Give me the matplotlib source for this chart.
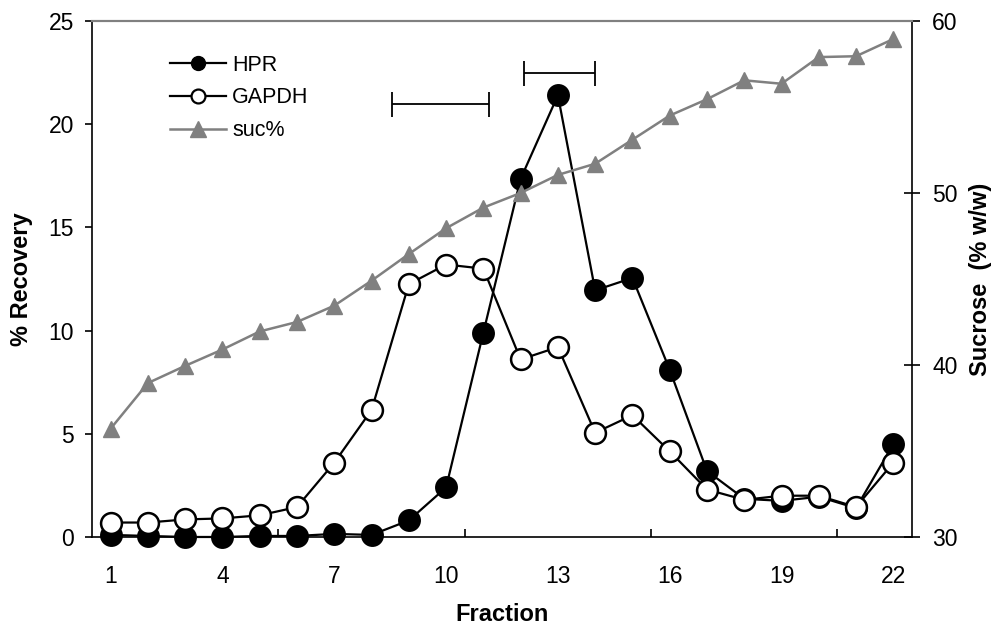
import matplotlib
matplotlib.use("Agg")
import matplotlib.pyplot as plt
from matplotlib.lines import Line2D

plt.rcParams['font.family'] = ['Liberation Sans', 'DejaVu Sans']

# fraction numbers
fractions = list(range(1, 23))

# % recovery
hpr = [0.1, 0.05, 0.0, 0.0, 0.05, 0.05, 0.15, 0.1, 0.8, 2.4, 9.9, 17.35,
       21.4, 11.95, 12.55, 8.1, 3.2, 1.85, 1.75, 1.95, 1.4, 4.5]
gapdh = [0.7, 0.7, 0.85, 0.9, 1.05, 1.45, 3.6, 6.15, 12.25, 13.2, 13.0, 8.6,
         9.2, 5.05, 5.9, 4.15, 2.3, 1.8, 2.0, 2.0, 1.45, 3.6]

# sucrose % (w/w)
suc = [36.3, 38.95, 39.95, 40.9, 41.95, 42.5, 43.45, 44.9, 46.45, 47.95,
       49.15, 50.0, 51.05, 51.7, 53.1, 54.5, 55.45, 56.55, 56.35, 57.9, 57.95, 58.95]

# pooled ranges (start, end, height on % recovery axis)
pools = [(8.55, 11.15, 21.0), (12.1, 14.0, 22.5)]

xticks = [1, 4, 7, 10, 13, 16, 19, 22]
minor_x = [5.5, 10.5, 15.5, 20.5]

fig = plt.figure(figsize=(9.97, 6.26), dpi=100)
ax = fig.add_axes([0.0923, 0.1422, 0.8224, 0.8243])
ax2 = ax.twinx()

ax.plot(fractions, hpr, color='black', lw=1.6, marker='o', ms=15,
        mfc='black', mec='black', mew=1.5, clip_on=False, zorder=3)
ax.plot(fractions, gapdh, color='black', lw=1.6, marker='o', ms=15,
        mfc='white', mec='black', mew=1.8, clip_on=False, zorder=4)

for x0, x1, yv in pools:
    ax.errorbar([(x0 + x1) / 2], [yv], xerr=[(x1 - x0) / 2], fmt='none',
                ecolor='black', elinewidth=1.3, capsize=9, capthick=1.3)

ax2.plot(fractions, suc, color='#808080', lw=1.8, marker='^', ms=12,
         mfc='#808080', mec='#808080', clip_on=False)

ax.set_xlim(0.5, 22.5)
ax.set_ylim(0, 25)
ax2.set_ylim(30, 60)

ax.set_xticks(xticks)
ax.set_xticks(minor_x, minor=True)
ax.tick_params(axis='x', which='major', length=0, pad=20, labelsize=16.5)
ax.tick_params(axis='x', which='minor', direction='in', length=6, width=1.2)
ax.set_yticks([0, 5, 10, 15, 20, 25])
ax.tick_params(axis='y', direction='out', length=5, width=1.2, pad=8, labelsize=16.5)
ax2.set_yticks([30, 40, 50, 60])
ax2.tick_params(axis='y', direction='inout', length=11, width=1.2, pad=9, labelsize=16.5)

for a in (ax, ax2):
    a.spines['top'].set_color('#808080')
    a.spines['top'].set_linewidth(1.5)
    for s in ('left', 'right', 'bottom'):
        a.spines[s].set_linewidth(1.2)
ax.spines['right'].set_visible(False)
ax2.spines['left'].set_visible(False)
ax2.spines['bottom'].set_visible(False)

ax.set_xlabel('Fraction', fontsize=17, fontweight='bold', labelpad=11)
ax.set_ylabel('% Recovery', fontsize=17, fontweight='bold')
ax.yaxis.set_label_coords(-0.072, 0.5)
ax2.set_ylabel('Sucrose  (% w/w)', fontsize=17, fontweight='bold')
ax2.yaxis.set_label_coords(1.07, 0.5)

# legend keys are drawn a bit smaller than the plotted markers
keys = [
    Line2D([], [], color='black', lw=1.6, marker='o', ms=10, mfc='black', mec='black'),
    Line2D([], [], color='black', lw=1.6, marker='o', ms=10, mfc='white', mec='black', mew=1.6),
    Line2D([], [], color='#808080', lw=1.8, marker='^', ms=11, mfc='#808080', mec='#808080'),
]
ax2.legend(keys, ['HPR', 'GAPDH', 'suc%'], loc='upper left', bbox_to_anchor=(0.095, 0.935),
           frameon=False, fontsize=15.5, handlelength=2.6, handletextpad=0.3,
           labelspacing=0.55, borderpad=0, borderaxespad=0)

fig.savefig('out.png', dpi=100)
